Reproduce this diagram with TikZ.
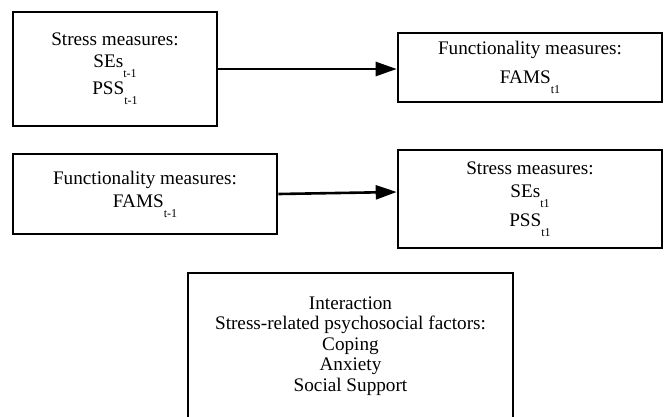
\documentclass[tikz,border=0pt]{standalone}
\usepackage{fontspec}
\setmainfont{Liberation Serif}
\usepackage{tikz}
\usetikzlibrary{positioning, arrows.meta, calc}

\newcommand{\lowidx}[1]{\raisebox{-10pt}{\fontsize{12}{12}\selectfont #1}}

\begin{document}
\begin{tikzpicture}[x=1pt, y=-1pt]
\tikzset{
    every node/.style={align=center, font=\fontsize{19.2}{22}\selectfont},
    measurebox/.style={draw, line width=2.6pt, inner sep=0pt},
    linkarrow/.style={line width=2.6pt, -{Triangle[length=21pt, width=14pt]}}
}

\useasboundingbox (0,0) rectangle (665,416);

\node[measurebox, minimum width=204pt, minimum height=114pt] (stresspre) at (115,69)
    {Stress measures:\\ SEs\lowidx{t-1}\\[3pt] PSS\lowidx{t-1}};
\node[measurebox, minimum width=264pt, minimum height=69pt,
      font=\fontsize{19.2}{29}\selectfont] (functpost) at (530,67.5)
    {Functionality measures:\\ FAMS\lowidx{t1}};
\node[measurebox, minimum width=264pt, minimum height=80pt,
      font=\fontsize{19.2}{23}\selectfont] (functpre) at (145,194)
    {Functionality measures:\\ FAMS\lowidx{t-1}};
\node[measurebox, minimum width=264pt, minimum height=98pt,
      font=\fontsize{19.2}{23}\selectfont] (stresspost) at (530,199)
    {Stress measures:\\ SEs\lowidx{t1}\\[6pt] PSS\lowidx{t1}};
\node[measurebox, minimum width=325pt, minimum height=146pt,
      font=\fontsize{19.2}{20.5}\selectfont] (interaction) at (350.5,346)
    {Interaction\\ Stress-related psychosocial factors:\\ Coping\\ Anxiety\\ Social Support};

\draw[linkarrow] (stresspre.east) -- (stresspre.east -| functpost.west);
\draw[linkarrow] (functpre.east) -- ([yshift=7pt]stresspost.west);
\end{tikzpicture}
\end{document}
